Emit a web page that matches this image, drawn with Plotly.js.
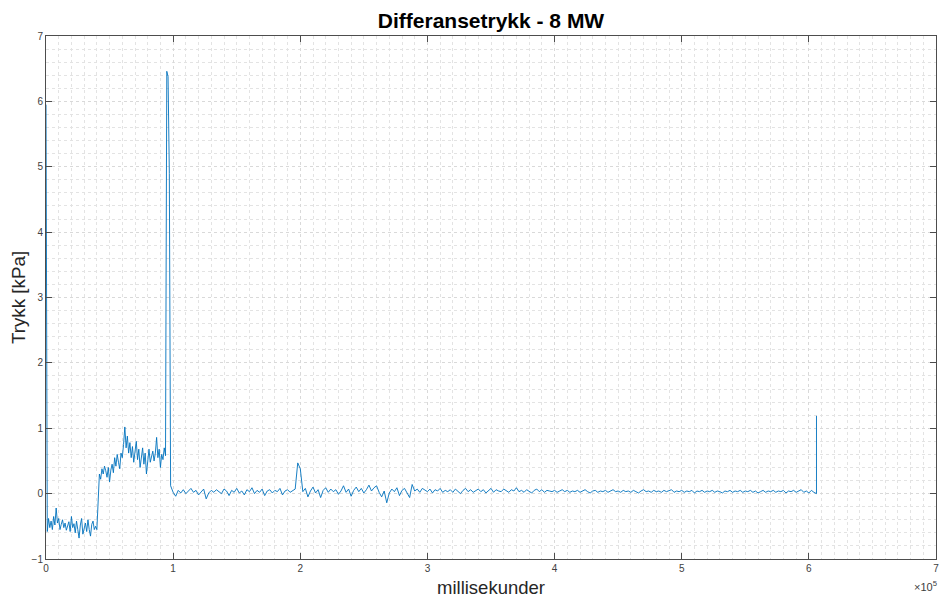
<!DOCTYPE html>
<html>
<head>
<meta charset="utf-8">
<script src="https://cdn.plot.ly/plotly-3.0.1.min.js"></script>
<style>
  html, body { margin: 0; padding: 0; background: #fff; }
  #chart { width: 940px; height: 598px; }
</style>
</head>
<body>
<div id="chart"></div>
<script>
// Differential pressure log, 8 MW run. Time in milliseconds, pressure in kPa.

// Start-up phase: sampled every 1000 ms from t = 0
const startT0 = 0;
const startDt = 1000;
const startKPa = [
  5.95,
  -0.58, -0.38, -0.52, -0.42, -0.55, -0.35, -0.48, -0.22, -0.45, -0.38,
  -0.55, -0.47, -0.40, -0.52, -0.45, -0.56, -0.50, -0.43, -0.58, -0.35,
  -0.52, -0.46, -0.60, -0.42, -0.55, -0.68, -0.48, -0.38, -0.62, -0.50,
  -0.45, -0.58, -0.40, -0.55, -0.65, -0.47, -0.42, -0.55, -0.50,
  -0.55, -0.05, 0.30,
  0.22, 0.38, 0.30, 0.42, 0.35, 0.25, 0.40, 0.18, 0.36, 0.45,
  0.32, 0.55, 0.42, 0.60, 0.48, 0.38, 0.62, 0.55, 0.75, 1.02,
  0.70, 0.88, 0.62, 0.78, 0.55, 0.72, 0.48, 0.65, 0.80, 0.52,
  0.68, 0.40, 0.60, 0.70, 0.45, 0.62, 0.30, 0.55, 0.68, 0.48,
  0.58, 0.65, 0.50, 0.62, 0.86, 0.55, 0.68, 0.40, 0.60, 0.52,
  0.70, 0.58, 6.46, 6.38, 4.90, 0.12
];

// Steady phase: sampled every 2000 ms from t = 98000
const steadyT0 = 98000;
const steadyDt = 2000;
const steadyKPa = [
  0.12, 0.02, -0.04, 0.05, 0.01, 0.06, 0.00, 0.04, 0.08, 0.02,
  0.05, -0.02, 0.03, 0.07, -0.08, 0.01, 0.05, 0.02, 0.06, 0.03,
  0.00, 0.07, 0.04, -0.03, 0.05, 0.02, 0.08, 0.01, 0.04, -0.02,
  0.06, 0.03, 0.09, 0.00, 0.05, 0.02, 0.07, -0.03, 0.04, 0.06,
  0.01, 0.05, 0.03, 0.08, -0.02, 0.04, 0.06, 0.02, 0.05, 0.07,
  0.47, 0.38, 0.03, 0.08, -0.05, 0.04, 0.10, 0.01, 0.06, -0.06,
  0.05, 0.09, 0.02, 0.07, 0.03, 0.06, -0.01, 0.04, 0.12, 0.02,
  0.07, -0.04, 0.05, 0.10, 0.03, 0.08, 0.01, 0.06, 0.13, 0.04,
  0.09, 0.12, 0.02, -0.05, 0.04, -0.14, 0.01, 0.07, 0.03, 0.09,
  -0.03, 0.05, 0.08, 0.02, -0.06, 0.14, 0.04, 0.07, 0.02, 0.08,
  0.05, 0.03, 0.07, 0.01, 0.06, 0.04, 0.08, 0.02, 0.05, 0.03,
  0.06, 0.02, 0.07, 0.04, 0.00, 0.05, 0.08, 0.03, 0.06, 0.02,
  0.04, 0.07, 0.03, 0.06, 0.01, 0.05, 0.08, 0.02, 0.06, 0.04,
  0.03, 0.07, 0.05, 0.02, 0.06, 0.04, 0.09, 0.03, 0.05, 0.02,
  0.06, 0.04, 0.01, 0.05, 0.07, 0.03, 0.06, 0.02, 0.05, 0.04,
  0.03, 0.05, 0.02, 0.04, 0.06, 0.03, 0.05, 0.02, 0.04, 0.03,
  0.05, 0.02, 0.04, 0.06, 0.03, 0.01, 0.04, 0.05, 0.02, 0.04,
  0.03, 0.05, 0.02, 0.04, 0.06, 0.03, 0.04, 0.02, 0.05, 0.03,
  0.04, 0.02, 0.05, 0.03, 0.01, 0.04, 0.06, 0.03, 0.04, 0.02,
  0.05, 0.03, 0.04, 0.02, 0.05, 0.03, 0.04, 0.06, 0.02, 0.04,
  0.03, 0.05, 0.02, 0.04, 0.03, 0.05, 0.01, 0.04, 0.03, 0.05,
  0.02, 0.04, 0.03, 0.05, 0.02, 0.04, 0.03, 0.01, 0.04, 0.03,
  0.05, 0.02, 0.04, 0.03, 0.05, 0.02, 0.04, 0.03, 0.05, 0.02,
  0.04, 0.01, 0.03, 0.05, 0.02, 0.04, 0.03, 0.05, 0.02, 0.04,
  0.03, 0.05, 0.01, 0.04, 0.03, 0.05, 0.02, 0.04, 0.06, 0.02,
  0.04, 0.01, 0.05, 0.02, 0.00
];

// Final spike at shutdown
const endT = [606000, 606000];
const endKPa = [0.00, 1.19];

// Axis ticks
const xTickVals = [0, 100000, 200000, 300000, 400000, 500000, 600000, 700000];
const xTickText = ['0', '1', '2', '3', '4', '5', '6', '7'];
const yTickVals = [-1, 0, 1, 2, 3, 4, 5, 6, 7];

const lineStyle = { color: '#0072BD', width: 0.9 };

const traces = [
  { type: 'scatter', mode: 'lines', x0: startT0, dx: startDt, y: startKPa, line: lineStyle, hoverinfo: 'x+y' },
  { type: 'scatter', mode: 'lines', x0: steadyT0, dx: steadyDt, y: steadyKPa, line: lineStyle, hoverinfo: 'x+y' },
  { type: 'scatter', mode: 'lines', x: endT, y: endKPa, line: lineStyle, hoverinfo: 'x+y' }
];

const axisCommon = {
  showline: true,
  linecolor: '#4d4d4d',
  linewidth: 1,
  mirror: 'ticks',
  ticks: 'inside',
  ticklen: 6,
  tickcolor: '#4d4d4d',
  tickwidth: 1,
  showgrid: true,
  gridcolor: '#d9d9d9',
  griddash: 'dot',
  gridwidth: 1,
  zeroline: false,
  tickfont: { family: 'Liberation Sans, Arial, sans-serif', size: 10, color: '#404040' }
};

const layout = {
  width: 940,
  height: 598,
  paper_bgcolor: '#ffffff',
  plot_bgcolor: '#ffffff',
  showlegend: false,
  margin: { l: 46, r: 4, t: 36, b: 39 },
  font: { family: 'Liberation Sans, Arial, sans-serif', color: '#262626' },
  title: {
    text: '<b>Differansetrykk - 8 MW</b>',
    font: { size: 21, color: '#000000', family: 'Liberation Sans, Arial, sans-serif' },
    x: 0.5, xref: 'paper', xanchor: 'center',
    y: 1, yref: 'paper', yanchor: 'bottom',
    pad: { b: 8 }
  },
  xaxis: Object.assign({}, axisCommon, {
    range: [0, 700000],
    tickvals: xTickVals,
    ticktext: xTickText,
    minor: { dtick: 10000, tick0: 0, showgrid: true, gridcolor: '#e3e3e3', griddash: 'dot', gridwidth: 1, ticks: '' },
    title: { text: 'millisekunder', font: { size: 18.5, color: '#262626' }, standoff: 9 }
  }),
  yaxis: Object.assign({}, axisCommon, {
    range: [-1, 7],
    tickvals: yTickVals,
    minor: { dtick: 0.2, tick0: 0, showgrid: true, gridcolor: '#e3e3e3', griddash: 'dot', gridwidth: 1, ticks: '' },
    title: { text: 'Trykk [kPa]', font: { size: 18.8, color: '#262626' }, standoff: 1 }
  }),
  annotations: [{
    text: '×10<sup>5</sup>',
    xref: 'paper', yref: 'paper',
    x: 1, y: 0, xanchor: 'right', yanchor: 'top',
    xshift: 3, yshift: -18,
    showarrow: false,
    font: { size: 11, color: '#404040' }
  }]
};

Plotly.newPlot('chart', traces, layout, { displayModeBar: false, staticPlot: true });
</script>
</body>
</html>
